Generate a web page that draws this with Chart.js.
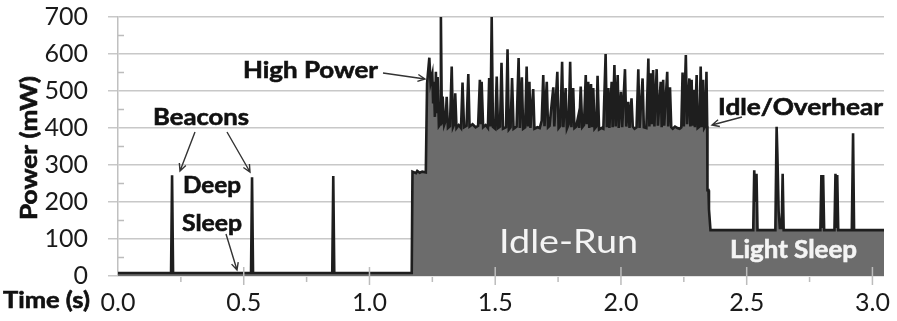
<!DOCTYPE html>
<html>
<head>
<meta charset="utf-8">
<script src="https://cdn.jsdelivr.net/npm/chart.js@4.4.0/dist/chart.umd.min.js"></script>
<style>
  html, body { margin: 0; padding: 0; background: #fff; }
  #chart { display: block; }
</style>
</head>
<body>
<canvas id="chart" width="897" height="321"></canvas>
<script>
// power trace (time in s, power in mW)
const deepSleepTime  = [0.000, 0.211, 0.215, 0.219, 0.529, 0.533, 0.537, 0.852, 0.856, 0.860, 1.168, 1.171, 1.185, 1.190, 1.200, 1.210, 1.224];
const deepSleepPower = [8, 8, 272, 8, 8, 267, 8, 8, 270, 8, 8, 282, 278, 284, 279, 282, 280];

const idleRunTime = [
  1.229, 1.238, 1.243, 1.250, 1.253, 1.256, 1.260, 1.264, 1.268, 1.271, 1.276, 1.281, 1.284, 1.288, 1.291, 1.297,
  1.303, 1.307, 1.312, 1.320, 1.327, 1.332, 1.337, 1.341, 1.346, 1.355, 1.364, 1.370, 1.376, 1.386, 1.393, 1.398,
  1.410, 1.422, 1.432, 1.439, 1.443, 1.446, 1.452, 1.462, 1.471, 1.476, 1.481, 1.486, 1.491, 1.500, 1.506, 1.511,
  1.519, 1.525, 1.531, 1.543, 1.549, 1.554, 1.561, 1.567, 1.573, 1.585, 1.593, 1.598, 1.606, 1.611, 1.619, 1.625,
  1.630, 1.636, 1.640, 1.651, 1.656, 1.668, 1.677, 1.685, 1.691, 1.696, 1.705, 1.710, 1.716, 1.731, 1.735, 1.747,
  1.752, 1.759, 1.766, 1.771, 1.780, 1.785, 1.792, 1.798, 1.803, 1.810, 1.815, 1.822, 1.830, 1.834, 1.840, 1.846,
  1.853, 1.860, 1.864, 1.870, 1.874, 1.881, 1.885, 1.890, 1.895, 1.902, 1.907, 1.913, 1.923, 1.930, 1.939, 1.944,
  1.950, 1.954, 1.963, 1.967, 1.974, 1.979, 1.987, 1.991, 2.000, 2.005, 2.016, 2.021, 2.029, 2.034, 2.042, 2.047,
  2.054, 2.062, 2.069, 2.074, 2.086, 2.091, 2.101, 2.109, 2.113, 2.118, 2.123, 2.128, 2.133, 2.142, 2.147, 2.158,
  2.162, 2.168, 2.172, 2.184, 2.188, 2.195, 2.200, 2.206, 2.215, 2.225, 2.233, 2.240, 2.245, 2.250, 2.258, 2.263,
  2.272, 2.276, 2.281, 2.285, 2.290, 2.294, 2.301, 2.305, 2.312, 2.317, 2.322, 2.327, 2.331, 2.336, 2.340, 2.343
];
const idleRunPower = [
  520, 590, 522, 545, 470, 525, 430, 552, 440, 538, 405, 410, 700, 410, 485, 408,
  420, 484, 400, 405, 566, 402, 410, 494, 400, 408, 400, 523, 402, 406, 546, 404,
  410, 402, 406, 530, 410, 525, 402, 408, 400, 535, 404, 700, 403, 398, 539, 400,
  404, 576, 398, 402, 613, 396, 402, 535, 398, 404, 589, 400, 537, 398, 402, 566,
  404, 525, 400, 505, 398, 402, 400, 420, 543, 405, 525, 402, 406, 510, 404, 552,
  400, 406, 579, 402, 508, 398, 410, 579, 402, 508, 400, 404, 431, 400, 512, 402,
  408, 543, 410, 525, 400, 519, 402, 508, 398, 404, 541, 396, 400, 398, 600, 402,
  508, 400, 525, 402, 570, 404, 543, 400, 498, 402, 559, 404, 471, 400, 480, 404,
  398, 402, 559, 400, 534, 402, 400, 588, 404, 548, 410, 557, 404, 559, 406, 525,
  402, 530, 406, 552, 404, 510, 402, 398, 404, 400, 398, 402, 550, 404, 597, 410,
  534, 404, 530, 406, 503, 402, 543, 400, 404, 566, 402, 530, 400, 406, 552, 405
];

const lightSleepTime  = [2.344, 2.348, 2.350, 2.356, 2.526, 2.530, 2.535, 2.539, 2.543, 2.614, 2.619, 2.622, 2.627, 2.632, 2.639, 2.643, 2.647,
                         2.793, 2.797, 2.801, 2.804, 2.808, 2.849, 2.853, 2.857, 2.860, 2.864, 2.918, 2.923, 2.927, 3.046];
const lightSleepPower = [232, 232, 180, 124, 124, 286, 200, 276, 124, 124, 403, 330, 175, 130, 130, 276, 124,
                         124, 273, 130, 273, 124, 124, 276, 130, 273, 124, 124, 386, 124, 124];

const timeTicksMinor = [0.25, 0.75, 1.25, 1.75, 2.25, 2.75];
const powerTicksMinor = [50, 150, 250, 350, 450, 550, 650];

const traceTime = deepSleepTime.concat(idleRunTime, lightSleepTime);
const tracePower = deepSleepPower.concat(idleRunPower, lightSleepPower);

// text placed in the plot: left x, baseline y, target width
function fitText(ctx, text, x, y, w, font, color) {
  ctx.save();
  ctx.font = font;
  ctx.fillStyle = color;
  ctx.strokeStyle = color;
  ctx.lineWidth = 0.6;
  ctx.textAlign = 'left';
  ctx.textBaseline = 'alphabetic';
  const m = ctx.measureText(text).width;
  ctx.translate(x, y);
  ctx.scale(w / m, 1);
  ctx.fillText(text, 0, 0);
  if (font.startsWith('bold')) ctx.strokeText(text, 0, 0);
  ctx.restore();
}

function arrow(ctx, x1, y1, x2, y2) {
  const a = Math.atan2(y2 - y1, x2 - x1);
  const h = 8;
  ctx.beginPath();
  ctx.moveTo(x1, y1);
  ctx.lineTo(x2, y2);
  ctx.moveTo(x2 - h * Math.cos(a - 0.45), y2 - h * Math.sin(a - 0.45));
  ctx.lineTo(x2, y2);
  ctx.lineTo(x2 - h * Math.cos(a + 0.45), y2 - h * Math.sin(a + 0.45));
  ctx.stroke();
}

const tickMarks = {
  id: 'tickMarks',
  afterDatasetsDraw(chart) {
    const { ctx, scales: { x, y } } = chart;
    const y0 = y.getPixelForValue(0);
    const x0 = x.getPixelForValue(0);
    ctx.save();
    ctx.strokeStyle = '#bcbcbc';
    ctx.lineWidth = 1.5;
    ctx.beginPath();
    x.ticks.forEach(t => {
      if (t.value === 0) return;
      const px = x.getPixelForValue(t.value);
      ctx.moveTo(px, y0 - 9);
      ctx.lineTo(px, y0 + 9);
    });
    timeTicksMinor.forEach(v => {
      const px = x.getPixelForValue(v);
      ctx.moveTo(px, y0 + 1);
      ctx.lineTo(px, y0 + 6);
    });
    powerTicksMinor.forEach(v => {
      const py = y.getPixelForValue(v);
      ctx.moveTo(x0, py);
      ctx.lineTo(x0 + 6, py);
    });
    ctx.stroke();
    ctx.restore();
  },
  afterDraw(chart) {
    const ctx = chart.ctx;
    const bold = sz => 'bold ' + sz + 'px Lato';
    fitText(ctx, 'Time (s)', 3, 308, 87, bold(22), '#111');
    ctx.save();
    ctx.translate(37, 148);
    ctx.rotate(-Math.PI / 2);
    fitText(ctx, 'Power (mW)', -72, 0, 144, bold(23), '#111');
    ctx.restore();

    fitText(ctx, 'Beacons', 153, 125, 96, bold(23), '#111');
    fitText(ctx, 'Deep', 183, 193, 58, bold(23), '#111');
    fitText(ctx, 'Sleep', 182, 231, 60, bold(23), '#111');
    fitText(ctx, 'High Power', 243, 78, 135, bold(23), '#111');
    fitText(ctx, 'Idle/Overhear', 718, 115, 165, bold(23), '#111');
    fitText(ctx, 'Idle-Run', 499, 253, 139, '32px Lato', '#f4f4f4');
    fitText(ctx, 'Light Sleep', 730, 258, 127, bold(25), '#f4f4f4');

    ctx.save();
    ctx.strokeStyle = '#333';
    ctx.lineWidth = 1.4;
    arrow(ctx, 195, 132, 180, 171);
    arrow(ctx, 227, 132, 250, 172);
    arrow(ctx, 226, 234, 237, 270);
    arrow(ctx, 383, 73, 425, 79);
    arrow(ctx, 742, 117, 712, 125);
    ctx.restore();
  }
};

new Chart(document.getElementById('chart'), {
  type: 'line',
  data: {
    datasets: [{
      data: traceTime.map((t, i) => ({ x: t, y: tracePower[i] })),
      fill: 'origin',
      backgroundColor: '#6c6c6c',
      borderColor: '#1e1e1e',
      borderWidth: 2.6,
      pointRadius: 0,
      tension: 0
    }]
  },
  options: {
    responsive: false,
    animation: false,
    devicePixelRatio: 1,
    layout: { padding: { top: 17, right: 13, left: 0, bottom: 0 } },
    plugins: { legend: { display: false }, tooltip: { enabled: false } },
    scales: {
      x: {
        type: 'linear',
        min: 0,
        max: 3.046,
        afterFit: s => { s.height = 45; s.paddingLeft = 0; s.paddingRight = 0; },
        grid: { display: true, drawOnChartArea: false, drawTicks: false },
        border: { display: false },
        ticks: {
          stepSize: 0.5,
          includeBounds: false,
          autoSkip: false,
          maxRotation: 0,
          padding: 12,
          color: '#1a1a1a',
          font: { family: 'Lato', size: 25 },
          callback: v => v.toFixed(1)
        }
      },
      y: {
        min: 0,
        max: 700,
        afterFit: s => { s.width = 118; s.paddingTop = 0; s.paddingBottom = 0; },
        grid: { color: '#c8c8c8', lineWidth: 1.5, tickLength: 10 },
        border: { color: '#c0c0c0', width: 1.5 },
        ticks: {
          stepSize: 100,
          padding: 20,
          color: '#1a1a1a',
          font: { family: 'Lato', size: 25 }
        }
      }
    }
  },
  plugins: [tickMarks]
});
</script>
</body>
</html>
